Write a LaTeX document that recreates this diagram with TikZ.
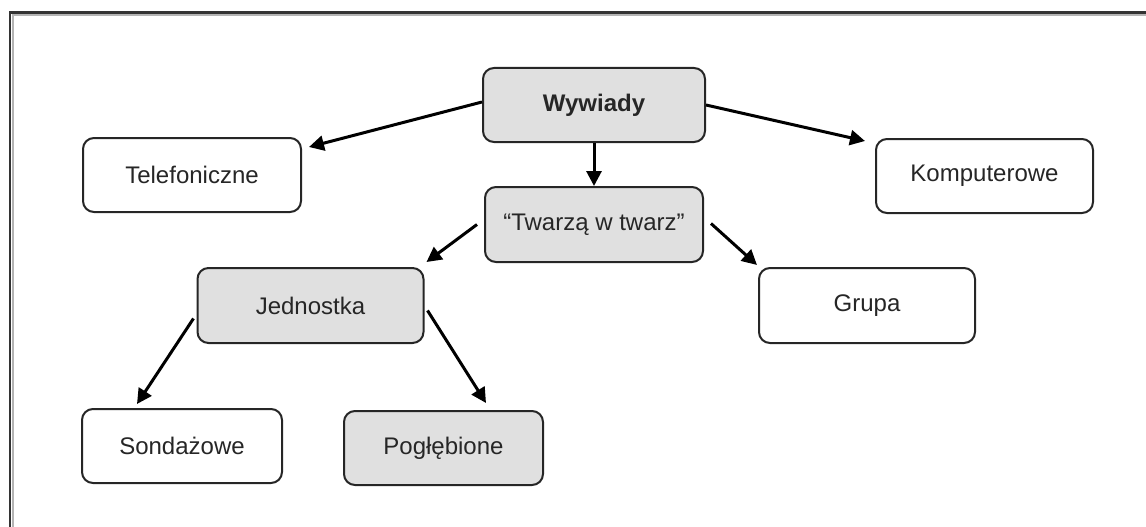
\documentclass[tikz,border=0pt]{standalone}
\usepackage{fontspec}
\setmainfont{Liberation Sans}
\usetikzlibrary{arrows.meta,calc}
\definecolor{boxgray}{HTML}{E0E0E0}
\definecolor{framedark}{HTML}{333333}
\definecolor{framelight}{HTML}{B4B4B4}
\tikzset{
  plainbox/.style={draw=black!85, line width=2pt, rounded corners=11pt, fill=white,
    inner sep=0pt, font=\fontsize{24}{28}\selectfont, text=black!85},
  greybox/.style={plainbox, fill=boxgray},
  arr/.style={line width=3pt, draw=black, -{Triangle[length=15pt,width=15pt]}},
}
\begin{document}
\begin{tikzpicture}[x=1pt,y=-1pt]
  \useasboundingbox (0,0) rectangle (1146,527);
  % page frame (left and top edges only)
  \draw[framelight, line width=2pt] (12.5,527) -- (12.5,15) -- (1146,15);
  \draw[framedark, line width=2.5pt] (10,527) -- (10,12.5) -- (1146,12.5);

  % boxes
  \node[greybox, minimum width=222pt, minimum height=74pt, font=\fontsize{24}{28}\selectfont\bfseries]
    (wy) at (594,105) {Wywiady};
  \node[plainbox, minimum width=218pt, minimum height=74pt] (tel) at (192,175) {Telefoniczne};
  \node[plainbox, minimum width=217pt, minimum height=74pt] (komp) at (984.5,176) {Komputerowe};
  \node[greybox, minimum width=218pt, minimum height=75pt] (tw) at (594,224.5) {“Twarzą w twarz”};
  \node[greybox, minimum width=226pt, minimum height=75pt] (jed) at (310.5,305.5) {Jednostka};
  \node[plainbox, minimum width=216pt, minimum height=75pt] (gr) at (867,305.5) {Grupa};
  \node[plainbox, minimum width=200pt, minimum height=74pt] (sond) at (182,446) {Sondażowe};
  \node[greybox, minimum width=199pt, minimum height=74pt] (pog) at (443.5,448) {Pogłębione};

  % connectors
  \draw[arr] ($(wy.west)+(0,-3)$) -- ($(tel.north east)+(7,10)$);
  \draw[arr] (wy.east) -- ($(komp.north west)+(-10,3)$);
  \draw[arr] (wy.south) -- (tw.north);
  \draw[arr] ($(tw.west)+(-7,0)$) -- ($(jed.north east)+(2,-5)$);
  \draw[arr] ($(tw.east)+(7,-1)$) -- ($(gr.north west)+(-1,-2)$);
  \draw[arr] ($(jed.west)+(-3,13)$) -- ($(sond.north)+(-45,-4)$);
  \draw[arr] ($(jed.east)+(3,5)$) -- ($(pog.north)+(42.5,-7)$);
\end{tikzpicture}
\end{document}
